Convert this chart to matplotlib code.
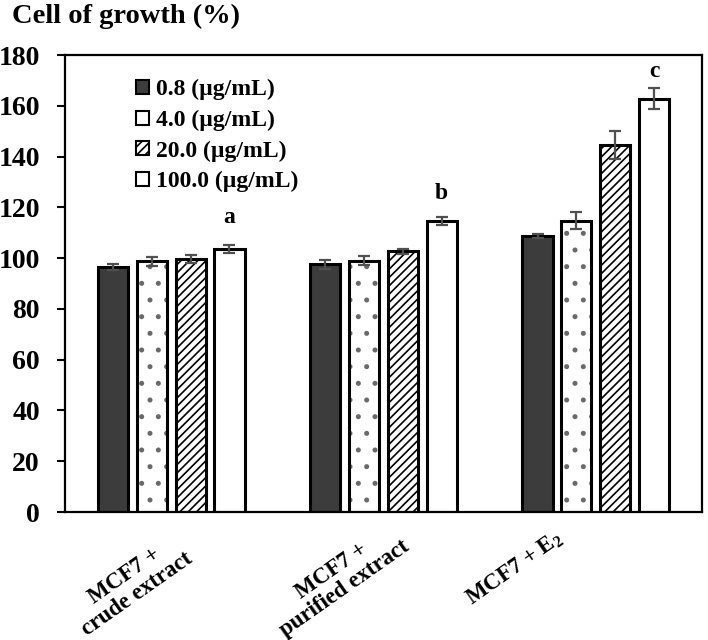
import matplotlib
matplotlib.use("Agg")
import matplotlib.pyplot as plt
import matplotlib.transforms as mtransforms
import numpy as np

plt.rcParams['font.family'] = ['Liberation Serif', 'DejaVu Serif']
plt.rcParams['font.weight'] = 'bold'
plt.rcParams['mathtext.fontset'] = 'custom'
plt.rcParams['mathtext.rm'] = 'Liberation Serif:bold'
plt.rcParams['mathtext.bf'] = 'Liberation Serif:bold'
plt.rcParams['mathtext.it'] = 'Liberation Serif:bold'
plt.rcParams['hatch.linewidth'] = 1.2

categories = ["MCF7 +\ncrude extract", "MCF7 +\npurified extract", "MCF7 + $\\mathbf{E_2}$"]
series = ["0.8 (\u00b5g/mL)", "4.0 (\u00b5g/mL)", "20.0 (\u00b5g/mL)", "100.0 (\u00b5g/mL)"]
values = [
    [96.5, 97.5, 108.8],
    [98.7, 98.9, 114.8],
    [99.6, 102.7, 144.5],
    [103.7, 114.7, 162.8],
]
errors = [
    [1.1, 1.6, 0.7],
    [1.7, 1.8, 3.3],
    [1.7, 0.9, 5.6],
    [1.6, 1.6, 4.2],
]
letters = ["a", "b", "c"]
letter_y = [112.0, 121.5, 169.5]

fig = plt.figure(figsize=(7.08, 6.4), dpi=100)
ax = fig.add_axes([0.0918, 0.2, 0.8997, 0.714])

x = np.arange(len(categories))
w = 0.142
step = 0.183
styles = [
    dict(color="#3c3c3c", hatch=None, hcol="black"),
    dict(color="white", hatch=".", hcol="#6a6a6a"),
    dict(color="white", hatch="////", hcol="black"),
    dict(color="white", hatch=None, hcol="black"),
]
for i, (vals, errs) in enumerate(zip(values, errors)):
    pos = x + (i - 1.5) * step
    st = styles[i]
    # fill + hatch layer
    ax.bar(pos, vals, w, color=st["color"], hatch=st["hatch"],
           edgecolor=st["hcol"], linewidth=0, zorder=2)
    # outline layer
    ax.bar(pos, vals, w, facecolor="none", edgecolor="black", linewidth=2.2,
           zorder=2.5)
    # legend proxy
    ax.bar([np.nan], [np.nan], w, color=st["color"],
           hatch=st["hatch"] if i == 2 else None,
           edgecolor="black", linewidth=1.5, label=series[i])
    ax.errorbar(pos, vals, yerr=errs, fmt="none", ecolor="#505050",
                elinewidth=1.6, capsize=4.5, capthick=1.6, zorder=3)

for j, let in enumerate(letters):
    pos = x[j] + 1.5 * step
    ax.text(pos, letter_y[j], let, ha="center", va="bottom", fontsize=17, fontweight="bold")

ax.set_ylim(0, 180)
ax.set_yticks(np.arange(0, 181, 20))
ax.set_xlim(-0.5, 2.5)
ax.set_xticks(x)
ax.set_xticklabels([])
ax.tick_params(axis="x", length=0)
ax.tick_params(axis="y", labelsize=20, length=6, width=1.5, direction="out", pad=12)
for s in ax.spines.values():
    s.set_linewidth(1.6)

# category labels, rotated, placed below the axis
label_dx = [-0.189, -0.214, -0.381]
label_y = [-0.160, -0.149, -0.123]
trans = mtransforms.blended_transform_factory(ax.transData, ax.transAxes)
for j, lab in enumerate(categories):
    ax.text(x[j] + label_dx[j], label_y[j], lab, transform=trans, rotation=35,
            ha="center", va="center", rotation_mode="anchor", multialignment="center",
            fontsize=16.5, fontweight="bold", linespacing=1.05)

fig.text(0.017, 0.974, "Cell of growth (%)", fontsize=20.5, fontweight="bold", va="center")

leg = ax.legend(loc="upper left", bbox_to_anchor=(0.112, 0.947), frameon=False,
                fontsize=17, handlelength=0.55, handleheight=0.55, handletextpad=0.3,
                labelspacing=0.4, borderaxespad=0, borderpad=0)
for t in leg.get_texts():
    t.set_fontweight("bold")

fig.savefig("out.png", dpi=100)
